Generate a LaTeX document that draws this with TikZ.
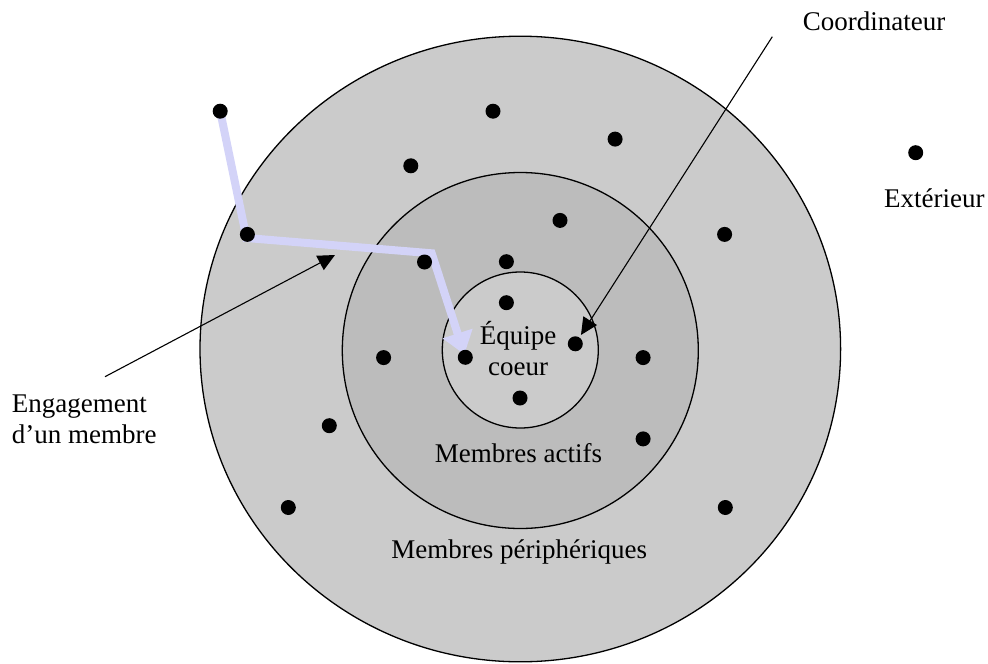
\documentclass[tikz,border=0pt]{standalone}
\usepackage{fontspec}
\setmainfont{Liberation Serif}
\usetikzlibrary{arrows.meta}
\definecolor{outerg}{HTML}{CBCBCB}
\definecolor{midg}{HTML}{BCBCBC}
\definecolor{lav}{HTML}{D3D3F8}
\pgfdeclarelayer{bg}
\pgfdeclarelayer{mid}
\pgfsetlayers{bg,mid,main}
\begin{document}
\begin{tikzpicture}[x=1pt,y=-1pt,
  ring/.style={draw=black, line width=1.3pt},
  dot/.style={circle, fill=black, minimum size=15pt, inner sep=0pt, outer sep=3pt},
  lbl/.style={font=\fontsize{27}{31}\selectfont, inner sep=0pt},
  pointer/.style={draw=black, line width=1.1pt, -{Triangle[length=17pt,width=16pt]}},
  path/.style={draw=lav, line width=8pt, line join=miter, -{Triangle[length=22pt,width=30pt]}}
]
\useasboundingbox (0,0) rectangle (988,664);

\begin{pgfonlayer}{bg}
  \draw[ring, fill=outerg] (520.3,349) ellipse [x radius=320.3, y radius=312.8];
  \draw[ring, fill=midg] (520.3,350.5) circle [radius=178];
  \draw[ring, fill=outerg] (520.3,350) circle [radius=78];
\end{pgfonlayer}

% members
\node[dot] (d1) at (220.2,111.2) {};
\node[dot] (d2) at (493.0,111.2) {};
\node[dot] (d3) at (615.1,139.1) {};
\node[dot] (d4) at (410.8,165.8) {};
\node[dot] (d5) at (247.4,234.4) {};
\node[dot] (d6) at (560.0,220.4) {};
\node[dot] (d7) at (724.6,234.4) {};
\node[dot] (d8) at (424.5,262.0) {};
\node[dot] (d9) at (506.4,261.7) {};
\node[dot] (d10) at (506.4,302.7) {};
\node[dot] (d11) at (575.3,343.8) {};
\node[dot] (d12) at (465.3,357.3) {};
\node[dot] (d13) at (383.6,357.6) {};
\node[dot] (d14) at (643.1,357.6) {};
\node[dot] (d15) at (520.0,398.0) {};
\node[dot] (d16) at (329.3,425.7) {};
\node[dot] (d17) at (643.1,438.9) {};
\node[dot] (d18) at (288.3,507.5) {};
\node[dot] (d19) at (725.3,507.5) {};
\node[dot] (ext) at (915.7,152.7) {};

% labels
\node[lbl, anchor=base] (equipe) at (518,344) {\begin{tabular}[t]{@{}c@{}}Équipe\\coeur\end{tabular}};
\node[lbl, anchor=base] (actifs) at (518.5,462.7) {Membres actifs};
\node[lbl, anchor=base] (periph) at (519.2,558.3) {Membres périphériques};
\node[lbl, anchor=base] (coord) at (874,30.7) {Coordinateur};
\node[lbl, anchor=base west] (exterieur) at (884,207.3) {Extérieur};
\node[lbl, anchor=base west] (engage) at (11.7,412.3) {\begin{tabular}[t]{@{}l@{}}Engagement\\d’un membre\end{tabular}};

% engagement path
\coordinate (p1) at (246.5,238);
\coordinate (p2) at (431.7,253.3);
\begin{pgfonlayer}{mid}
  \draw[path, shorten >=3pt] (d1.center) -- (p1) -- (p2) -- (d12.center);
\end{pgfonlayer}

% pointers
\coordinate (coordstart) at (772.3,36.7);
\draw[pointer] (coordstart) -- (d11);
\coordinate (engstart) at (105,376.7);
\coordinate (engtip) at (335,255);
\draw[pointer] (engstart) -- (engtip);
\end{tikzpicture}
\end{document}
